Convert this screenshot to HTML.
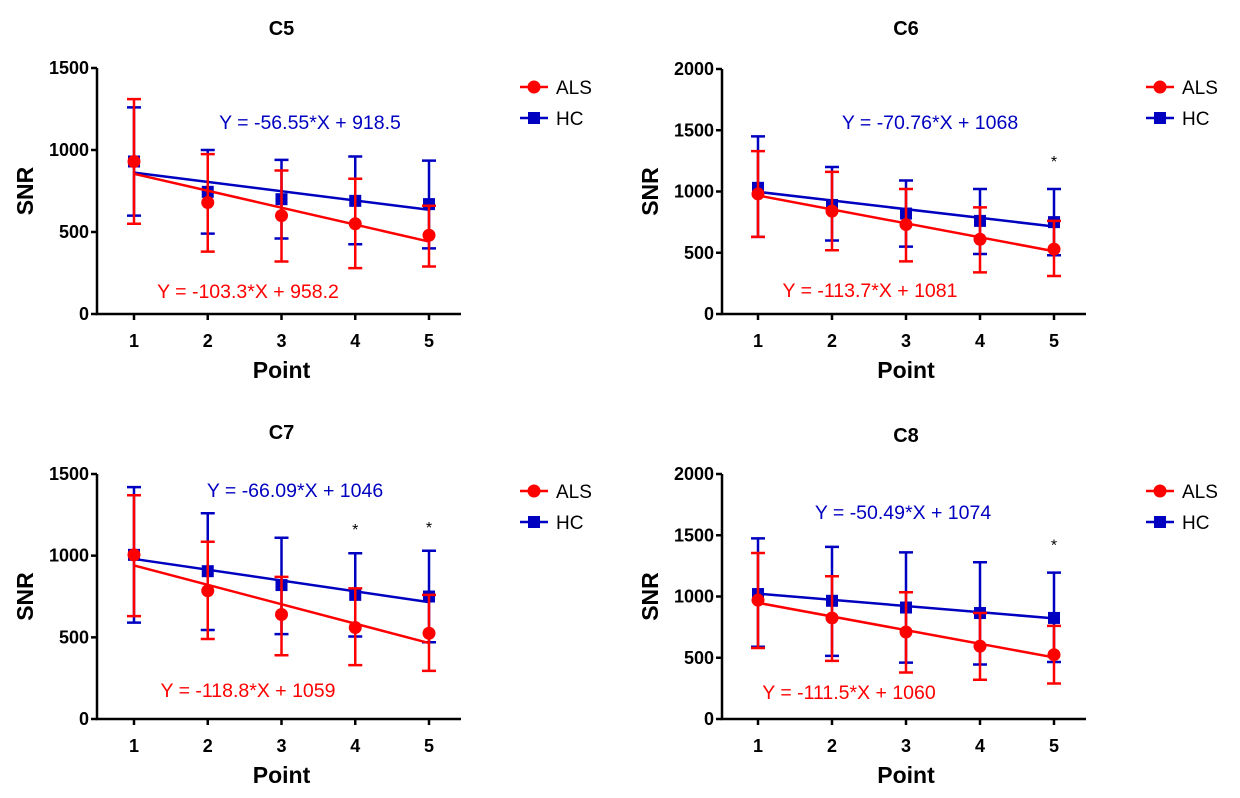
<!DOCTYPE html>
<html><head><meta charset="utf-8"><style>
body{margin:0;background:#fff}
svg{display:block;font-family:"Liberation Sans",Arial,sans-serif}
</style></head><body>
<svg id="c" width="1240" height="798"></svg>
<script>
const categories=[1,2,3,4,5];
const titles=["C5","C6","C7","C8"];
const yMaxes=[1500,2000,1500,2000];
const yTickLabels=[[0,500,1000,1500],[0,500,1000,1500,2000],[0,500,1000,1500],[0,500,1000,1500,2000]];
const alsMean=[[930,680,600,550,480],[980,840,730,610,530],[1005,785,640,560,525],[970,825,710,595,525]];
const alsUpper=[[1310,975,875,825,660],[1330,1160,1020,870,760],[1370,1085,870,800,760],[1355,1165,1035,865,760]];
const alsLower=[[550,380,320,280,290],[630,520,430,340,310],[630,490,390,330,295],[580,475,380,320,290]];
const hcMean=[[930,745,700,690,670],[1030,890,820,760,750],[1005,905,820,760,750],[1020,965,910,865,825]];
const hcUpper=[[1260,1000,940,960,935],[1450,1200,1090,1020,1020],[1420,1260,1110,1015,1030],[1475,1405,1360,1280,1195]];
const hcLower=[[600,490,460,425,400],[630,600,550,490,480],[590,545,520,505,470],[590,515,460,445,465]];
const alsSlope=[-103.3,-113.7,-118.8,-111.5];
const alsIntercept=[958.2,1081,1059,1060];
const hcSlope=[-56.55,-70.76,-66.09,-50.49];
const hcIntercept=[918.5,1068,1046,1074];
const alsEq=["Y = -103.3*X + 958.2","Y = -113.7*X + 1081","Y = -118.8*X + 1059","Y = -111.5*X + 1060"];
const hcEq=["Y = -56.55*X + 918.5","Y = -70.76*X + 1068","Y = -66.09*X + 1046","Y = -50.49*X + 1074"];
const stars=[[],[5],[4,5],[5]];

const NS="http://www.w3.org/2000/svg";
const svg=document.getElementById('c');
function mk(tag,at,parent,txt){const e=document.createElementNS(NS,tag);for(const k in at)e.setAttribute(k,at[k]);if(txt!==undefined)e.textContent=txt;(parent||svg).appendChild(e);return e;}
const RED="#ff0000",BLUE="#0000c0";
const layout=[
 {ax:97,x1:134,x5:429,y0:314,yT:68,ty:28,eqB:[310,122],eqR:[248,291],leg:[520,87]},
 {ax:722,x1:758,x5:1054,y0:314,yT:69,ty:28,eqB:[930,122],eqR:[870,290],leg:[1146,87]},
 {ax:97,x1:134,x5:429,y0:719,yT:474,ty:432,eqB:[295,490],eqR:[248,690],leg:[520,491]},
 {ax:722,x1:758,x5:1054,y0:719,yT:474,ty:435,eqB:[903,512],eqR:[849,692],leg:[1146,491]}
];
for(let p=0;p<4;p++){
 const L=layout[p];
 const g=mk('g',{});
 
 
 const xs=v=>L.x1+(v-1)*(L.x5-L.x1)/4;
 const ys=v=>L.y0-v*(L.y0-L.yT)/yMaxes[p];
 const xc=(L.x1+L.x5)/2;
 let t=mk('text',{x:xc,y:L.ty+7,'text-anchor':'middle','font-size':20,'font-weight':'bold'},g,titles[p]);
 
 let a=mk('path',{d:`M${L.ax},${L.yT} V${L.y0} H${L.x5+32}`,stroke:'#000','stroke-width':2.5,fill:'none'},g);
 
 yTickLabels[p].forEach(v=>{
  mk('line',{x1:L.ax-6,x2:L.ax,y1:ys(v),y2:ys(v),stroke:'#000','stroke-width':2.5},g);
  let tl=mk('text',{x:L.ax-8,y:ys(v)+6,'text-anchor':'end','font-size':18,'font-weight':'bold'},g,v);
  
 });
 categories.forEach(c=>{
  mk('line',{x1:xs(c),x2:xs(c),y1:L.y0,y2:L.y0+6,stroke:'#000','stroke-width':2.5},g);
  let tl=mk('text',{x:xs(c),y:L.y0+33,'text-anchor':'middle','font-size':18,'font-weight':'bold'},g,c);
  
 });
 let xl=mk('text',{x:xc,y:L.y0+64,'text-anchor':'middle','font-size':23,'font-weight':'bold'},g,'Point');
 
 const ym=(L.y0+L.yT)/2, lx=L.ax-64;
 let yl=mk('text',{x:lx,y:ym,'text-anchor':'middle','font-size':23,'font-weight':'bold',transform:`rotate(-90 ${lx} ${ym})`},g,'SNR');
 
 const series=[{m:hcMean[p],u:hcUpper[p],l:hcLower[p],s:hcSlope[p],b:hcIntercept[p],c:BLUE,n:'hc',sq:true},
               {m:alsMean[p],u:alsUpper[p],l:alsLower[p],s:alsSlope[p],b:alsIntercept[p],c:RED,n:'als',sq:false}];
 series.forEach(S=>{
  const sg=mk('g',{},g);
  
  categories.forEach((c,i)=>{
   const x=xs(c);
   let e=mk('path',{d:`M${x},${ys(S.l[i])}V${ys(S.u[i])}M${x-7},${ys(S.l[i])}h14M${x-7},${ys(S.u[i])}h14`,stroke:S.c,'stroke-width':2.5,fill:'none'},sg);
   
  });
  let fl=mk('line',{x1:xs(1),y1:ys(S.s*1+S.b),x2:xs(5),y2:ys(S.s*5+S.b),stroke:S.c,'stroke-width':2.5},sg);
  
  categories.forEach((c,i)=>{
   const x=xs(c),y=ys(S.m[i]);
   let mkr=S.sq?mk('rect',{x:x-6,y:y-6,width:12,height:12,fill:S.c},sg):mk('circle',{cx:x,cy:y,r:6.5,fill:S.c},sg);
   
  });
 });
 let eb=mk('text',{x:L.eqB[0],y:L.eqB[1]+7,'text-anchor':'middle','font-size':19.5,fill:BLUE},g,hcEq[p]);
 
 let er=mk('text',{x:L.eqR[0],y:L.eqR[1]+7,'text-anchor':'middle','font-size':19.5,fill:RED},g,alsEq[p]);
 
 stars[p].forEach(c=>{
  let s=mk('text',{x:xs(c),y:(p%2?ys(hcUpper[p][c-1])-22:ys(hcUpper[p][c-1])-18),'text-anchor':'middle','font-size':16},g,'*');
  
 });
 [['ALS',RED,false],['HC',BLUE,true]].forEach((it,k)=>{
  const ly=L.leg[1]+k*31, lx0=L.leg[0];
  const lg=mk('g',{},g);
  
  mk('line',{x1:lx0,x2:lx0+28,y1:ly,y2:ly,stroke:it[1],'stroke-width':2.5},lg);
  if(it[2])mk('rect',{x:lx0+8,y:ly-6,width:12,height:12,fill:it[1]},lg);
  else mk('circle',{cx:lx0+14,cy:ly,r:6.5,fill:it[1]},lg);
  mk('text',{x:lx0+36,y:ly+7,'font-size':19},lg,it[0]);
 });
}
</script>
</body></html>
